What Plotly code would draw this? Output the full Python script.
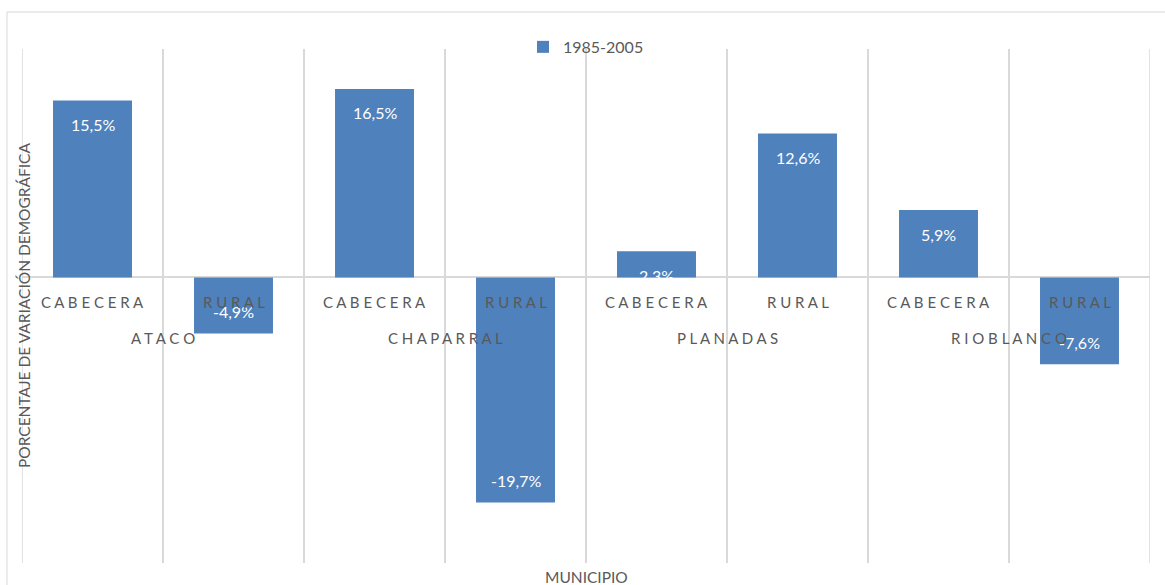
import plotly.graph_objects as go

# ---- data ----
municipios = ["ATACO", "CHAPARRAL", "PLANADAS", "RIOBLANCO"]
zonas = ["CABECERA", "RURAL"]
variacion = [15.5, -4.9, 16.5, -19.7, 2.3, 12.6, 5.9, -7.6]  # % 1985-2005
serie = "1985-2005"
y_title = "PORCENTAJE DE VARIACIÓN DEMOGRÁFICA"
x_title = "MUNICIPIO"

BLUE = "#4F81BD"
GRID = "#D9D9D9"
TXT = "#595959"
FONT = "Lato, 'Open Sans', sans-serif"

cats = []
subs = []
for m in municipios:
    for z in zonas:
        cats.append(f"{m} · {z}")
        subs.append(z)


def spaced(s):
    return " ".join(list(s))


fig = go.Figure()
fig.add_trace(go.Bar(
    x=cats, y=variacion, name=serie,
    marker=dict(color=BLUE, line=dict(width=0)),
    hoverinfo="skip",
))

ann = []
# data labels
for c, v in zip(cats, variacion):
    ann.append(dict(
        x=c, y=v, xref="x", yref="y", showarrow=False,
        text=f"{v:.1f}%".replace(".", ","),
        font=dict(family=FONT, size=16, color="white"),
        yshift=-24 if v > 0 else 22,
    ))
# sub-category labels
for c, s in zip(cats, subs):
    ann.append(dict(
        x=c, y=0, xref="x", yref="y", showarrow=False,
        text=spaced(s), font=dict(family=FONT, size=15, color=TXT),
        yshift=-25,
    ))
# group labels
for i, m in enumerate(municipios):
    ann.append(dict(
        x=i * len(zonas) + (len(zonas) - 1) / 2, y=0, xref="x", yref="y",
        showarrow=False, text=spaced(m),
        font=dict(family=FONT, size=15, color=TXT), yshift=-61,
    ))
# axis titles
ann.append(dict(
    x=0.5, y=0, xref="paper", yref="paper", showarrow=False, yanchor="top",
    xanchor="center", yshift=-3, text=x_title,
    font=dict(family=FONT, size=15.5, color=TXT),
))
ann.append(dict(
    x=0, y=0.5, xref="paper", yref="paper", showarrow=False, textangle=-90,
    xanchor="center", yanchor="middle", xshift=2, text=y_title,
    font=dict(family=FONT, size=15.5, color=TXT),
))

# outer category boundaries (grid lines at both ends of the category axis)
edge_lines = [
    dict(type="line", xref="x", yref="paper", x0=b, x1=b, y0=0, y1=1,
         line=dict(color=GRID, width=1.5), layer="below")
    for b in (-0.5, len(cats) - 0.5)
]
border = dict(
    type="rect", xref="paper", yref="paper",
    x0=-0.0133, x1=1.03, y0=-0.2, y1=1.072,
    line=dict(color=GRID, width=1), fillcolor="rgba(0,0,0,0)", layer="below",
)

fig.update_layout(
    width=1165, height=585,
    margin=dict(l=22, r=15, t=49, b=22),
    paper_bgcolor="white", plot_bgcolor="white",
    bargap=0.44,
    showlegend=True,
    legend=dict(
        orientation="h", x=0.5, xanchor="center", y=1.004, yanchor="middle",
        font=dict(family=FONT, size=16, color=TXT), bgcolor="rgba(0,0,0,0)",
        itemwidth=30,
    ),
    annotations=ann,
    shapes=[border] + edge_lines,
    xaxis=dict(
        type="category", showticklabels=False, ticks="",
        showgrid=True, gridcolor=GRID, gridwidth=1.5, tickson="boundaries",
        showline=False, zeroline=False,
        range=[-0.5, len(cats) - 0.5],
    ),
    yaxis=dict(
        range=[-25, 20], showgrid=False, showticklabels=False, ticks="",
        zeroline=True, zerolinecolor=GRID, zerolinewidth=1.5, showline=False,
    ),
    font=dict(family=FONT, color=TXT),
)

fig.write_html(
    "out.html",
    config={"displayModeBar": False},
    post_script="document.body.style.margin='0';document.body.style.overflow='hidden';",
)
